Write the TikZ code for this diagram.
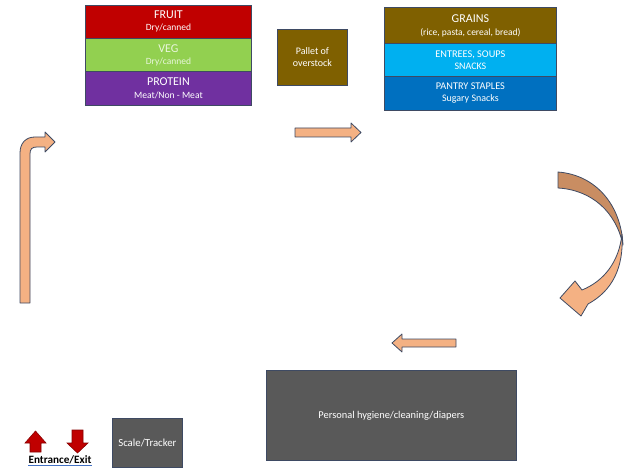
\documentclass[tikz,border=0pt]{standalone}
\usepackage{fontspec}
\setmainfont{Carlito}
\definecolor{fruitred}{HTML}{C00000}
\definecolor{veggreen}{HTML}{92D050}
\definecolor{protpurple}{HTML}{7030A0}
\definecolor{olive}{HTML}{7F6000}
\definecolor{entblue}{HTML}{00B0F0}
\definecolor{pantblue}{HTML}{0070C0}
\definecolor{boxgray}{HTML}{595959}
\definecolor{edge}{HTML}{3E4A63}
\definecolor{arrowfill}{HTML}{F4B183}
\definecolor{arrowdark}{HTML}{C98D62}
\definecolor{exitred}{HTML}{C00000}
\definecolor{linkblue}{HTML}{4472C4}
\tikzset{
  secbox/.style={draw=edge, line width=0.8pt, anchor=north west, inner sep=0pt,
    text=white, align=center},
  blockarrow/.style={draw=edge, line width=0.8pt, fill=arrowfill, line join=round},
  redarrow/.style={draw=exitred!70!black, line width=0.6pt, fill=exitred},
}
\begin{document}
\begin{tikzpicture}[x=1pt,y=-1pt]
\useasboundingbox (0,0) rectangle (624,468);
% left stack
\node[secbox, fill=fruitred, minimum width=166pt, minimum height=33pt] (fruit) at (85,5)
  {{\fontsize{12}{13}\selectfont FRUIT}\\[0pt]{\fontsize{9.5}{10}\selectfont Dry/canned}};
\node[secbox, fill=veggreen, text=white!80!veggreen, minimum width=166pt, minimum height=33pt] (veg) at (85,38)
  {{\fontsize{12}{13}\selectfont VEG}\\[0pt]{\fontsize{9.5}{10}\selectfont Dry/canned}};
\node[secbox, fill=protpurple, minimum width=166pt, minimum height=34pt] (protein) at (85,71)
  {{\fontsize{12}{13}\selectfont PROTEIN}\\[1pt]{\fontsize{9.6}{10}\selectfont Meat/Non - Meat}};
% pallet
\node[secbox, fill=olive, minimum width=70pt, minimum height=56pt] (pallet) at (277,29)
  {\fontsize{10}{13}\selectfont Pallet of\\overstock};
% right stack
\node[secbox, fill=olive, minimum width=172pt, minimum height=36pt] (grains) at (384,7)
  {{\fontsize{12}{13}\selectfont GRAINS}\\[1pt]{\fontsize{9.5}{10}\selectfont (rice, pasta, cereal, bread)}};
\node[secbox, fill=entblue, minimum width=172pt, minimum height=33pt] (entrees) at (384,43)
  {\fontsize{10.3}{13.5}\selectfont ENTREES, SOUPS\\SNACKS};
\node[secbox, fill=pantblue, minimum width=172pt, minimum height=34pt] (pantry) at (384,76)
  {\fontsize{10.3}{14.5}\selectfont PANTRY STAPLES\\Sugary Snacks};
% gray boxes
\node[secbox, fill=boxgray, minimum width=250pt, minimum height=90pt] (hygiene) at (266,370)
  {\fontsize{10.4}{12}\selectfont Personal hygiene/cleaning/diapers};
\node[secbox, fill=boxgray, minimum width=70pt, minimum height=49pt] (scale) at (112,418)
  {\fontsize{10.8}{12}\selectfont Scale/Tracker};
% bent arrow (left)
\draw[blockarrow] (20,303) -- (20,153) .. controls (20,143) and (26,137) .. (35,137)
  -- (45,137) -- (45,132) -- (55,142) -- (45,152) -- (45,147) -- (37,147)
  .. controls (32,147) and (30,149) .. (30,154) -- (30,303) -- cycle;
% straight arrows
\draw[blockarrow] (295,128) -- (351,128) -- (351,123) -- (361,132.5) -- (351,142)
  -- (351,137) -- (295,137) -- cycle;
\draw[blockarrow] (456,339) -- (402,339) -- (402,334) -- (392,343) -- (402,352)
  -- (402,347) -- (456,347) -- cycle;
% curved arrow (right)
\draw[blockarrow, fill=arrowdark] (558,172) .. controls (596,175) and (621,205) .. (623,245)
  .. controls (616,212) and (592,190) .. (558,188) -- cycle;
\draw[blockarrow] (622,234) .. controls (624,268) and (612,291) .. (588,304)
  -- (581,316) -- (560,298) -- (575,281) -- (582,290)
  .. controls (604,281) and (619,262) .. (622,234) -- cycle;
% entrance / exit
\draw[redarrow] (30,452) -- (30,443) -- (25,443) -- (35.5,431) -- (46,443) -- (41,443) -- (41,452) -- cycle;
\draw[redarrow] (72,430) -- (83,430) -- (83,443) -- (88,443) -- (77.5,453) -- (67,443) -- (72,443) -- cycle;
\node[inner sep=0pt, font=\bfseries\fontsize{11.2}{12}\selectfont] (entrance) at (60,460) {Entrance/Exit};
\draw[linkblue, line width=0.8pt] ([yshift=-1.5pt]entrance.south west) -- ([yshift=-1.5pt]entrance.south east);
\end{tikzpicture}
\end{document}
